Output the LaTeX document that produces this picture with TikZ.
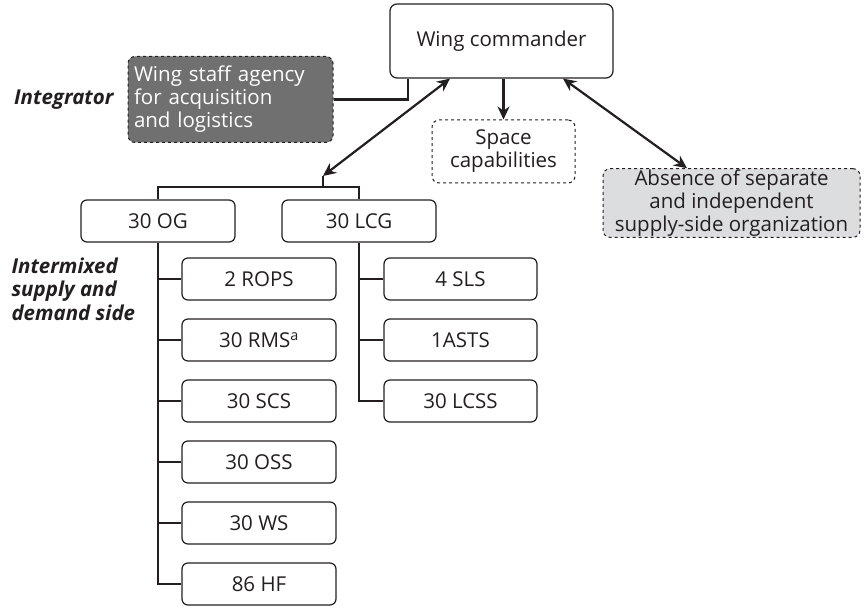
\documentclass[tikz,border=0pt]{standalone}
\usepackage{fontspec}
\setmainfont{Open Sans}
\usepackage{tikz}
\usetikzlibrary{shapes.geometric, arrows, arrows.meta}
\usetikzlibrary{positioning,calc}
\definecolor{staffgray}{HTML}{707070}
\definecolor{absgray}{HTML}{DCDDDF}
\definecolor{inkgray}{HTML}{231F20}

\begin{document}
\begin{tikzpicture}[x=1pt,y=-1pt,node distance=61pt,font=\fontsize{20.5}{23}\selectfont,color=inkgray]
	%defines
	\tikzstyle{unitBox} = [rectangle, rounded corners=6pt, minimum width=154pt, minimum height=42pt, text centered, draw=inkgray, line width=1.2pt, fill=white]
	\tikzstyle{commander} = [rectangle, rounded corners=7pt, minimum width=223pt, minimum height=74pt, text centered, draw=inkgray, line width=1.2pt]
	\tikzstyle{staffAgency} = [rectangle, rounded corners=7pt, minimum width=205pt, minimum height=86pt, inner sep=6pt, text width=193pt, align=left, draw=inkgray, dashed, line width=1pt, fill=staffgray, text=white]
	\tikzstyle{spaceCap} = [rectangle, rounded corners=7pt, minimum width=143pt, minimum height=63pt, align=center, draw=inkgray, dashed, line width=1pt]
	\tikzstyle{absence} = [rectangle, rounded corners=7pt, minimum width=257pt, minimum height=57pt, align=center, draw=inkgray, dashed, line width=1pt, fill=absgray, inner sep=1pt]
	\tikzstyle{sideText} = [align=left, font=\fontsize{20.5}{23.5}\selectfont\bfseries\itshape]
	\tikzstyle{line} = [line width=2.2pt]
	\tikzstyle{arrow} = [line width=2.2pt,->,>={Stealth[length=13pt,width=12pt]}]
	\tikzstyle{dblarrow} = [line width=2.2pt,<->,>={Stealth[length=13pt,width=12pt]}]
	\useasboundingbox (0,0) rectangle (867,609);
	%chart
	\node (commander) [commander] at (501.5,41) {Wing commander};
	\node (staff) [staffAgency] at (230.5,99.5) {Wing staff agency\\for acquisition\\and logistics};
	\node (integrator) [sideText, anchor=east] at (117,100) {Integrator};
	\node (space) [spaceCap] at (503.5,151.5) {Space\\capabilities};
	\node (absence) [absence] at (731.5,203) {Absence of separate\\and independent\\supply-side organization};
	\node (og) [unitBox] at (158,221) {30 OG};
	\node (lcg) [unitBox] at (359,221) {30 LCG};
	\node (intermixed) [sideText, anchor=north west] at (8,254) {Intermixed\\supply and\\demand side};
	% 30 OG squadrons
	\node (rops) [unitBox] at (259,279) {2 ROPS};
	\node (rms) [unitBox, below of=rops] {30 RMS\textsuperscript{a}};
	\node (scs) [unitBox, below of=rms] {30 SCS};
	\node (oss) [unitBox, below of=scs] {30 OSS};
	\node (ws) [unitBox, below of=oss] {30 WS};
	\node (hf) [unitBox, below of=ws] {86 HF};
	% 30 LCG squadrons
	\node (sls) [unitBox, minimum width=153pt] at (460.5,279) {4 SLS};
	\node (asts) [unitBox, minimum width=153pt, below of=sls] {1ASTS};
	\node (lcss) [unitBox, minimum width=153pt, below of=asts] {30 LCSS};
	\coordinate (split) at (323,176);
	%links
	\draw [line] (staff.east) -| ([xshift=-93.5pt]commander.south);
	\draw [arrow] (commander.south -| space.north) -- (space.north);
	\draw [dblarrow] ([xshift=-51.5pt]commander.south) -- (split);
	\draw [dblarrow] ([xshift=61.5pt]commander.south) -- ([xshift=-44.5pt]absence.north);
	\draw [line] (split) -- (split |- 0,188);
	\draw [line] (og.north) -- ++(0,-12) -| (lcg.north);
	\draw [line] (og.south) |- (hf.west);
	\foreach \sq in {rops,rms,scs,oss,ws}
		\draw [line] (og.south |- \sq.west) -- (\sq.west);
	\draw [line] (lcg.south) |- (lcss.west);
	\foreach \sq in {sls,asts}
		\draw [line] (lcg.south |- \sq.west) -- (\sq.west);
\end{tikzpicture}
\end{document}
